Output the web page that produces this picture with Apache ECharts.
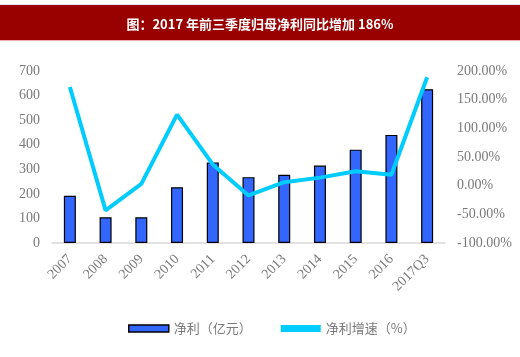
<!DOCTYPE html>
<html><head><meta charset="utf-8">
<script src="https://cdn.jsdelivr.net/npm/echarts@6/dist/echarts.min.js"></script>
<style>html,body{margin:0;padding:0;background:#fff}#c{width:520px;height:357px}</style>
</head><body><div id="c"></div>
<script>
const categories = ['2007','2008','2009','2010','2011','2012','2013','2014','2015','2016','2017Q3'];
const profit = [192, 105, 105, 227, 328, 268, 278, 315, 380, 440, 626];
const growth = [172, -43, 3, 124, 37, -17, 6, 14, 25, 19, 189];
const leftTicks = {min: 0, max: 700, interval: 100};
const rightTicks = {min: -100, max: 200, interval: 50};
const titleText = '图：2017 年前三季度归母净利同比增加 186%';
const names = ['净利（亿元）', '净利增速（%）'];

const chart = echarts.init(document.getElementById('c'), null, {renderer: 'canvas'});
const serif = 'Liberation Serif';
const labelColor = '#7a7a7a';
chart.setOption({
  animation: false,
  backgroundColor: '#fff',
  graphic: [
    {type: 'rect', shape: {x: 0, y: 4, width: 520, height: 1}, style: {fill: '#e6e6e6'}},
    {type: 'rect', shape: {x: 0, y: 5, width: 520, height: 35}, style: {fill: '#990000'}},
    {type: 'rect', shape: {x: 0, y: 40, width: 520, height: 1}, style: {fill: '#e8b0b0'}}
  ],
  title: {
    text: titleText, left: 'center', top: 13,
    textStyle: {color: '#fff', fontSize: 13, fontWeight: 'bold', fontFamily: 'Noto Sans CJK SC'}
  },
  grid: {left: 52, right: 75, top: 71, bottom: 114, containLabel: false},
  legend: {
    left: 123, top: 317, itemWidth: 40, itemHeight: 7, itemGap: 29,
    textStyle: {color: labelColor, fontSize: 13, fontFamily: 'Noto Sans CJK SC'},
    data: [
      {name: names[0], icon: 'rect', itemStyle: {color: '#3366ff', borderColor: '#000', borderWidth: 1.5}},
      {name: names[1], icon: 'rect', itemStyle: {color: '#00ccff'}}
    ]
  },
  xAxis: {
    type: 'category', data: categories,
    axisLine: {lineStyle: {color: '#d9d9d9', width: 1.5}},
    axisTick: {show: false},
    axisLabel: {rotate: 45, color: labelColor, fontSize: 14, fontFamily: serif, margin: 14}
  },
  yAxis: [
    {type: 'value', min: leftTicks.min, max: leftTicks.max, interval: leftTicks.interval,
     axisLine: {show: false}, axisTick: {show: false}, splitLine: {show: false},
     axisLabel: {color: labelColor, fontSize: 14, fontFamily: serif, margin: 12}},
    {type: 'value', min: rightTicks.min, max: rightTicks.max, interval: rightTicks.interval,
     axisLine: {show: false}, axisTick: {show: false}, splitLine: {show: false},
     axisLabel: {color: labelColor, fontSize: 14, fontFamily: serif, margin: 12,
       formatter: v => v.toFixed(2) + '%'}}
  ],
  series: [
    {name: names[0], type: 'bar', data: profit, barWidth: 12,
     itemStyle: {color: '#3366ff', borderColor: '#000', borderWidth: 1.2}},
    {name: names[1], type: 'line', yAxisIndex: 1, data: growth, symbol: 'none',
     lineStyle: {color: '#00ccff', width: 4}, itemStyle: {color: '#00ccff'}}
  ]
});
</script></body></html>
